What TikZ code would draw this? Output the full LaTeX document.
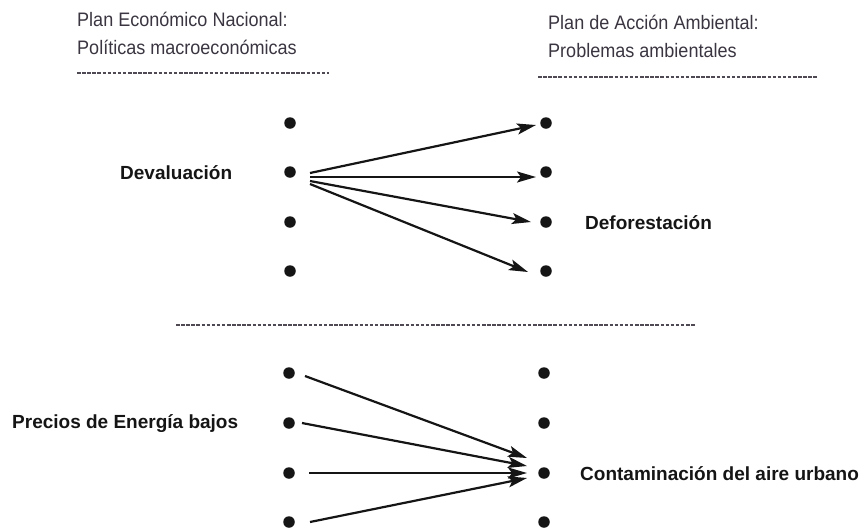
\documentclass[tikz,border=0pt]{standalone}
\usepackage{fontspec}
\setmainfont{Liberation Sans}
\newfontfamily\narrowfont[FakeStretch=0.925]{Liberation Sans}
\usetikzlibrary{arrows.meta}
\definecolor{hdr}{HTML}{3A3540}
\definecolor{ink}{HTML}{151515}
\tikzset{
  dot/.style={circle,fill=ink,inner sep=0pt,minimum size=11.5pt},
  hdrtext/.style={anchor=base west,inner sep=0pt,text=hdr,font=\narrowfont\fontsize{19.5}{23}\selectfont},
  lbl/.style={anchor=west,inner sep=0pt,text=ink,font=\bfseries\fontsize{19}{22}\selectfont},
  sep/.style={draw=hdr!90,line width=2pt,dash pattern=on 3.5pt off 1.6pt},
  arr/.style={draw=ink,line width=2.2pt,-{Stealth[length=19pt,width=11pt,inset=4pt]}}
}
\begin{document}
\begin{tikzpicture}[x=1pt,y=-1pt]
\useasboundingbox (0,0) rectangle (866,531);
% headers
\node[hdrtext] (h1) at (77,26) {Plan Económico Nacional:};
\node[hdrtext] (h2) at (77,54) {Políticas macroeconómicas};
\node[hdrtext] (h3) at (548,29) {Plan de Acción Ambiental:};
\node[hdrtext] (h4) at (548,57) {Problemas ambientales};
% separators
\coordinate (s1a) at (77,73);  \coordinate (s1b) at (329,73);
\coordinate (s2a) at (538,77); \coordinate (s2b) at (818,77);
\coordinate (s3a) at (176,325); \coordinate (s3b) at (696,325);
\draw[sep] (s1a) -- (s1b);
\draw[sep] (s2a) -- (s2b);
\draw[sep] (s3a) -- (s3b);
% dots top
\foreach \i/\y in {1/123,2/172,3/222,4/271}{
  \node[dot] (L\i) at (290,\y) {};
  \node[dot] (R\i) at (546,\y) {};
}
% dots bottom
\foreach \i/\y in {1/373,2/423,3/473,4/522}{
  \node[dot] (B\i) at (289,\y) {};
  \node[dot] (C\i) at (544,\y) {};
}
% labels
\node[lbl] (dev) at (120,173) {Devaluación};
\node[lbl] (def) at (585,223) {Deforestación};
\node[lbl] (pre) at (12,424) {Precios de Energía bajos};
\node[lbl] (con) at (580,474) {Contaminación del aire urbano};
% top arrows
\draw[arr] ([xshift=20pt,yshift=-1pt]L2.center) -- ([xshift=-10pt,yshift=-2pt]R1.center);
\draw[arr] ([xshift=20pt,yshift=-5pt]L2.center) -- ([xshift=-10pt,yshift=-5pt]R2.center);
\draw[arr] ([xshift=20pt,yshift=-9pt]L2.center) -- ([xshift=-15pt,yshift=0pt]R3.center);
\draw[arr] ([xshift=20pt,yshift=-12pt]L2.center) -- ([xshift=-18pt,yshift=-1pt]R4.center);
% bottom arrows
\draw[arr] ([xshift=16pt,yshift=-3pt]B1.center) -- ([xshift=-17pt,yshift=15pt]C3.center);
\draw[arr] ([xshift=13pt,yshift=0pt]B2.center) -- ([xshift=-17pt,yshift=7pt]C3.center);
\draw[arr] ([xshift=20pt,yshift=0pt]B3.center) -- ([xshift=-17pt,yshift=0pt]C3.center);
\draw[arr] ([xshift=21pt,yshift=0pt]B4.center) -- ([xshift=-17pt,yshift=-5pt]C3.center);
\end{tikzpicture}
\end{document}
